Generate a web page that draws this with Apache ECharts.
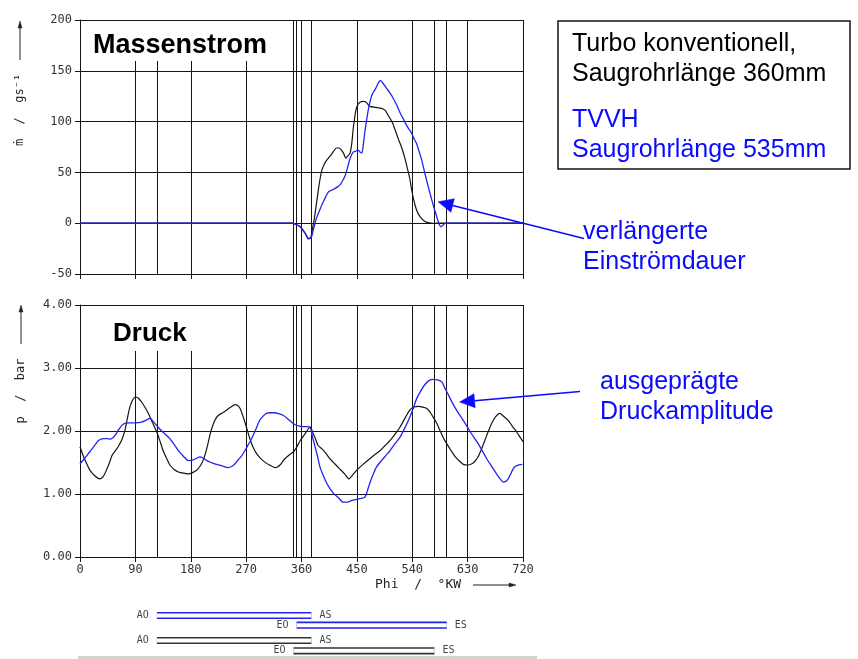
<!DOCTYPE html>
<html>
<head>
<meta charset="utf-8">
<script src="https://cdn.jsdelivr.net/npm/echarts@6/dist/echarts.min.js"></script>
<style>
html, body { margin: 0; padding: 0; background: #fff; }
#chart { width: 858px; height: 659px; }
</style>
</head>
<body>
<div id="chart"></div>
<script>
// Crank angle axis ticks (°KW)
const phiTicks = [0, 90, 180, 270, 360, 450, 540, 630, 720];

// Mass flow [phi, g/s] - conventional turbo, intake runner 360 mm
const massBlack = [
  [0,0],[345,0],[350,-1],[358,-3.5],[366,-10],[371,-15.5],[375,-14],[378,-5],[381,5],[384,18],
  [387,31],[390,43],[393,52],[397,58],[401,62],[409,68],[417,74],[421,74],[425,72],[429,68],
  [432,64],[435,66],[439,69],[442,80],[444,93],[446,102],[448,110],[451,116],[455,119],[460,120],
  [464,119.5],[468,117],[471,115],[480,114],[490,113],[496,111],[501,106],[507,100],[512,92],
  [517,83.5],[523,74],[528,64],[532,54],[536,44],[539,33],[542,24],[547,13],[551,8],[555,4.8],
  [559,2.5],[563,1],[570,0],[576,-0.3],[580,0],[720,0]
];
// Mass flow [phi, g/s] - TVVH, intake runner 535 mm
const massBlue = [
  [0,0],[345,0],[350,-1],[358,-3.5],[366,-10],[372,-15],[376,-14],[379,-7],[382,0],[385,6],
  [389,12],[393,18],[397,23],[401,28],[404,31],[409,32.5],[414,34],[419,36],[423,38],[427,42],
  [431,47],[435,55],[439,64],[444,70],[448,71],[452,72],[455,70],[458,69],[461,80],[463,90],
  [466,102],[469,113],[472,121],[475,127],[480,132],[484,137],[488,140.5],[492,138],[498,133],
  [504,128],[509,123],[515,116],[520,109],[526,102],[532,95],[539,88.5],[543,83],[547,78.5],
  [551,71],[555,63],[558,55.5],[563,43],[569,29],[574,18],[578,10],[581,4],[584,-1.5],[587,-3.5],
  [590,-2],[593,-0.3],[596,0],[720,0]
];
// Intake pressure [phi, bar] - conventional turbo
const pressBlack = [
  [0,1.75],[5,1.61],[10,1.5],[16,1.38],[24,1.29],[32,1.24],[38,1.28],[43,1.38],[48,1.5],[52,1.61],
  [57,1.68],[62,1.75],[68,1.86],[73,2.01],[77,2.2],[81,2.38],[86,2.5],[90,2.54],[95,2.52],[100,2.46],
  [106,2.37],[111,2.28],[118,2.13],[125,1.98],[130,1.84],[135,1.69],[141,1.56],[146,1.46],[153,1.39],
  [160,1.35],[168,1.33],[176,1.32],[183,1.34],[190,1.38],[195,1.44],[200,1.53],[204,1.65],[208,1.8],
  [212,1.97],[217,2.12],[221,2.2],[225,2.25],[232,2.29],[238,2.33],[245,2.38],[252,2.42],[256,2.41],
  [260,2.36],[264,2.26],[268,2.14],[272,2.01],[276,1.88],[281,1.75],[287,1.64],[293,1.57],[300,1.51],
  [308,1.46],[317,1.42],[321,1.43],[325,1.46],[329,1.51],[333,1.56],[340,1.62],[347,1.67],[352,1.74],
  [358,1.85],[366,1.96],[374,2.06],[379,1.96],[383,1.87],[387,1.77],[393,1.72],[400,1.64],[406,1.56],
  [414,1.48],[422,1.4],[430,1.32],[437,1.24],[443,1.3],[450,1.38],[460,1.47],[471,1.56],[480,1.63],
  [488,1.69],[496,1.77],[504,1.85],[512,1.95],[520,2.06],[528,2.2],[536,2.33],[543,2.38],[550,2.39],
  [557,2.38],[563,2.36],[569,2.3],[574,2.22],[580,2.12],[585,2.01],[590,1.9],[596,1.8],[603,1.69],
  [610,1.59],[617,1.52],[623,1.47],[630,1.46],[637,1.48],[642,1.52],[647,1.59],[652,1.7],[658,1.85],
  [663,1.98],[669,2.12],[675,2.22],[682,2.28],[689,2.23],[696,2.17],[703,2.07],[710,1.98],[716,1.89],
  [720,1.83]
];
// Intake pressure [phi, bar] - TVVH
const pressBlue = [
  [0,1.48],[7,1.56],[13.5,1.64],[20,1.72],[26,1.8],[30,1.85],[38,1.88],[44,1.88],[49,1.87],[53,1.89],
  [57,1.93],[62,2.01],[68,2.09],[73,2.12],[79,2.13],[90,2.13],[100,2.14],[107,2.17],[114,2.2],[120,2.14],
  [127,2.06],[135,1.98],[144,1.9],[152,1.8],[160,1.69],[168,1.6],[176,1.53],[184,1.54],[190,1.57],
  [195,1.59],[200,1.57],[206,1.53],[213,1.5],[219,1.48],[230,1.45],[241,1.42],[247,1.44],[252,1.48],
  [257,1.54],[263,1.61],[271,1.74],[279,1.88],[286,2.03],[292,2.17],[298,2.24],[303,2.28],[310,2.29],
  [317,2.29],[324,2.27],[330,2.25],[337,2.2],[344,2.14],[350,2.1],[355,2.08],[362,2.07],[368,2.07],
  [374,2.06],[378,1.9],[382,1.75],[386,1.6],[390,1.43],[395,1.3],[401,1.17],[406,1.09],[412,1.01],
  [420,0.94],[428,0.87],[435,0.87],[442,0.9],[452,0.92],[463,0.95],[467,1.05],[471,1.17],[476,1.3],
  [482,1.43],[490,1.53],[497,1.61],[504,1.69],[512,1.8],[520,1.9],[528,2.05],[536,2.22],[542,2.37],
  [547,2.51],[553,2.62],[560,2.73],[567,2.8],[574,2.82],[581,2.81],[588,2.78],[593,2.68],[599,2.57],
  [605,2.45],[612,2.33],[620,2.21],[628,2.09],[636,1.96],[645,1.83],[653,1.7],[661,1.56],[669,1.44],
  [677,1.32],[683,1.24],[688,1.19],[692,1.2],[696,1.24],[700,1.32],[704,1.4],[708,1.44],[712,1.46],
  [719,1.47],[720,1.47]
];

// Valve events (°KW): AO/AS exhaust open/close, EO/ES intake open/close
const timingBlack = { AO: 125, AS: 376, EO: 347, ES: 576 };
const timingBlue  = { AO: 125, AS: 376, EO: 352, ES: 596 };

const massTicks = [-50, 0, 50, 100, 150, 200];
const pressTicks = [0, 1, 2, 3, 4];

const BLUE = '#2323ee';
const TXT_BLUE = '#0a0aff';
const INK = '#151515';
const MONO = '"DejaVu Sans Mono", monospace';
const SANS = '"Liberation Sans", Arial, sans-serif';

const valveLines = Array.from(new Set([
  timingBlack.AO, timingBlack.EO, timingBlue.EO, timingBlack.AS, timingBlack.ES, timingBlue.ES
])).sort((a, b) => a - b);

const chart = echarts.init(document.getElementById('chart'), null, { renderer: 'canvas' });

function phiAxis(gridIndex, showLabels) {
  return {
    type: 'value', gridIndex, min: phiTicks[0], max: phiTicks[phiTicks.length - 1],
    interval: phiTicks[1] - phiTicks[0],
    axisLine: { show: true, onZero: false, lineStyle: { color: INK, width: 1 } },
    axisTick: { show: true, inside: false, length: 5, lineStyle: { color: INK } },
    axisLabel: { show: showLabels, color: '#333', fontFamily: MONO, fontSize: 12, margin: 7 },
    splitLine: { show: true, lineStyle: { color: INK, width: 1 } }
  };
}
function valueAxis(gridIndex, ticks, fmt) {
  return {
    type: 'value', gridIndex, min: ticks[0], max: ticks[ticks.length - 1],
    interval: ticks[1] - ticks[0],
    axisLine: { show: true, onZero: false, lineStyle: { color: INK, width: 1 } },
    axisTick: { show: true, inside: false, length: 5, lineStyle: { color: INK } },
    axisLabel: { color: '#333', fontFamily: MONO, fontSize: 12, margin: 8, formatter: fmt },
    splitLine: { show: true, lineStyle: { color: INK, width: 1 } }
  };
}
function curve(data, xi, color, width, z, withValves) {
  const s = {
    type: 'line', xAxisIndex: xi, yAxisIndex: xi, data, showSymbol: false, symbol: 'none',
    smooth: 0.25, lineStyle: { color, width }, z, silent: true
  };
  if (withValves) {
    s.markLine = {
      silent: true, symbol: ['none', 'none'], label: { show: false }, animation: false,
      lineStyle: { color: INK, width: 1, type: 'solid' },
      data: valveLines.map(v => ({ xAxis: v }))
    };
  }
  return s;
}

// Timing bars: a thick coloured stroke with a white core gives the double line
const rowPos = { blueOpen: 10.5, blueIntake: 20.2, blackOpen: 35.5, blackIntake: 45.8 };
function doubleBar(from, to, row, color) {
  const d = [[from, row], [to, row]];
  return [
    { type: 'line', xAxisIndex: 2, yAxisIndex: 2, data: d, symbol: 'none', silent: true,
      lineStyle: { color, width: 7.2 }, z: 3 },
    { type: 'line', xAxisIndex: 2, yAxisIndex: 2, data: d, symbol: 'none', silent: true,
      lineStyle: { color: '#fff', width: 4 }, z: 4 }
  ];
}
function barLabels(t, rowA, rowE) {
  const lbl = (txt, pos) => ({ show: true, position: pos, distance: 8, formatter: txt,
    fontFamily: MONO, fontSize: 10, color: '#111' });
  return {
    type: 'scatter', xAxisIndex: 2, yAxisIndex: 2, symbolSize: 0.1, silent: true, z: 5,
    data: [
      { value: [t.AO, rowA], label: lbl('AO', 'left') },
      { value: [t.AS, rowA], label: lbl('AS', 'right') },
      { value: [t.EO, rowE], label: lbl('EO', 'left') },
      { value: [t.ES, rowE], label: lbl('ES', 'right') }
    ]
  };
}

const option = {
  animation: false,
  backgroundColor: '#fff',
  grid: [
    { left: 80, right: 335, top: 20, height: 254 },
    { left: 80, right: 335, top: 305, height: 252 },
    { left: 80, right: 335, top: 605, height: 54 }
  ],
  xAxis: [
    phiAxis(0, false),
    phiAxis(1, true),
    { type: 'value', gridIndex: 2, min: 0, max: 720, show: false }
  ],
  yAxis: [
    valueAxis(0, massTicks, v => String(v)),
    valueAxis(1, pressTicks, v => v.toFixed(2)),
    { type: 'value', gridIndex: 2, min: 0, max: 54, inverse: true, show: false }
  ],
  series: [
    curve(massBlack, 0, INK, 1.2, 5, true),
    curve(massBlue, 0, BLUE, 1.3, 6, false),
    curve(pressBlack, 1, INK, 1.2, 5, true),
    curve(pressBlue, 1, BLUE, 1.3, 6, false),
    ...doubleBar(timingBlue.AO, timingBlue.AS, rowPos.blueOpen, BLUE),
    ...doubleBar(timingBlue.EO, timingBlue.ES, rowPos.blueIntake, BLUE),
    ...doubleBar(timingBlack.AO, timingBlack.AS, rowPos.blackOpen, '#333'),
    ...doubleBar(timingBlack.EO, timingBlack.ES, rowPos.blackIntake, '#333'),
    barLabels(timingBlue, rowPos.blueOpen, rowPos.blueIntake),
    barLabels(timingBlack, rowPos.blackOpen, rowPos.blackIntake)
  ]
};
chart.setOption(option);

// Arrow helper: shaft plus filled head
function arrow(tail, tip, color, headLen, headHalf, lw) {
  const dx = tip[0] - tail[0], dy = tip[1] - tail[1];
  const len = Math.hypot(dx, dy);
  const ux = dx / len, uy = dy / len;
  const bx = tip[0] - ux * headLen, by = tip[1] - uy * headLen;
  const nx = -uy, ny = ux;
  return [
    { type: 'polyline', z: 120, shape: { points: [tail, [bx, by]] },
      style: { stroke: color, lineWidth: lw, fill: null } },
    { type: 'polygon', z: 120,
      shape: { points: [tip, [bx + nx * headHalf, by + ny * headHalf], [bx - nx * headHalf, by - ny * headHalf]] },
      style: { fill: color, stroke: color, lineWidth: 0.5 } }
  ];
}
function txt(x, y, text, font, fill, align, rot) {
  return { type: 'text', z: 130, x, y, rotation: rot || 0,
    style: { text, font, fill, textAlign: align || 'left', textVerticalAlign: 'middle' } };
}

// Annotation targets in data coordinates
const flowTarget = chart.convertToPixel({ xAxisIndex: 0, yAxisIndex: 0 }, [582, 21]);
const pressTarget = chart.convertToPixel({ xAxisIndex: 1, yAxisIndex: 1 }, [617, 2.46]);

const graphics = [
  // panel titles on white patches
  { type: 'rect', z: 110, shape: { x: 82, y: 21, width: 206, height: 40 }, style: { fill: '#fff' } },
  txt(93, 46, 'Massenstrom', 'bold 27px ' + SANS, '#000'),
  { type: 'rect', z: 110, shape: { x: 104, y: 306, width: 96, height: 45 }, style: { fill: '#fff' } },
  txt(113, 334, 'Druck', 'bold 26px ' + SANS, '#000'),

  // legend box
  { type: 'rect', z: 110, shape: { x: 558, y: 21, width: 292, height: 148 },
    style: { fill: '#fff', stroke: '#111', lineWidth: 1.5 } },
  txt(572, 44, 'Turbo konventionell,', '25px ' + SANS, '#000'),
  txt(572, 74, 'Saugrohrlänge 360mm', '25px ' + SANS, '#000'),
  txt(572, 120, 'TVVH', '25px ' + SANS, TXT_BLUE),
  txt(572, 150, 'Saugrohrlänge 535mm', '25px ' + SANS, TXT_BLUE),

  // annotations
  txt(583, 232, 'verlängerte', '25px ' + SANS, TXT_BLUE),
  txt(583, 262, 'Einströmdauer', '25px ' + SANS, TXT_BLUE),
  ...arrow([584, 238.5], flowTarget, TXT_BLUE, 15, 7, 1.5),
  txt(600, 382, 'ausgeprägte', '25px ' + SANS, TXT_BLUE),
  txt(600, 412, 'Druckamplitude', '25px ' + SANS, TXT_BLUE),
  ...arrow([580, 391.5], pressTarget, TXT_BLUE, 15, 7, 1.5),

  // axis names
  txt(20, 110, 'ṁ  /  gs⁻¹', '12px ' + MONO, '#222', 'center', Math.PI / 2),
  ...arrow([20, 60], [20, 21], '#222', 7, 2, 1),
  txt(21, 391, 'p  /  bar', '12px ' + MONO, '#222', 'center', Math.PI / 2),
  ...arrow([21, 344], [21, 305], '#222', 7, 2, 1),
  txt(375, 585, 'Phi  /  °KW', '13px ' + MONO, '#222', 'left'),
  ...arrow([473, 585], [516, 585], '#222', 7, 2, 1),

  // strip along the lower edge
  { type: 'rect', z: 110, shape: { x: 78, y: 656, width: 459, height: 3 }, style: { fill: '#d6d3ce' } }
];
chart.setOption({ graphic: graphics });
</script>
</body>
</html>
